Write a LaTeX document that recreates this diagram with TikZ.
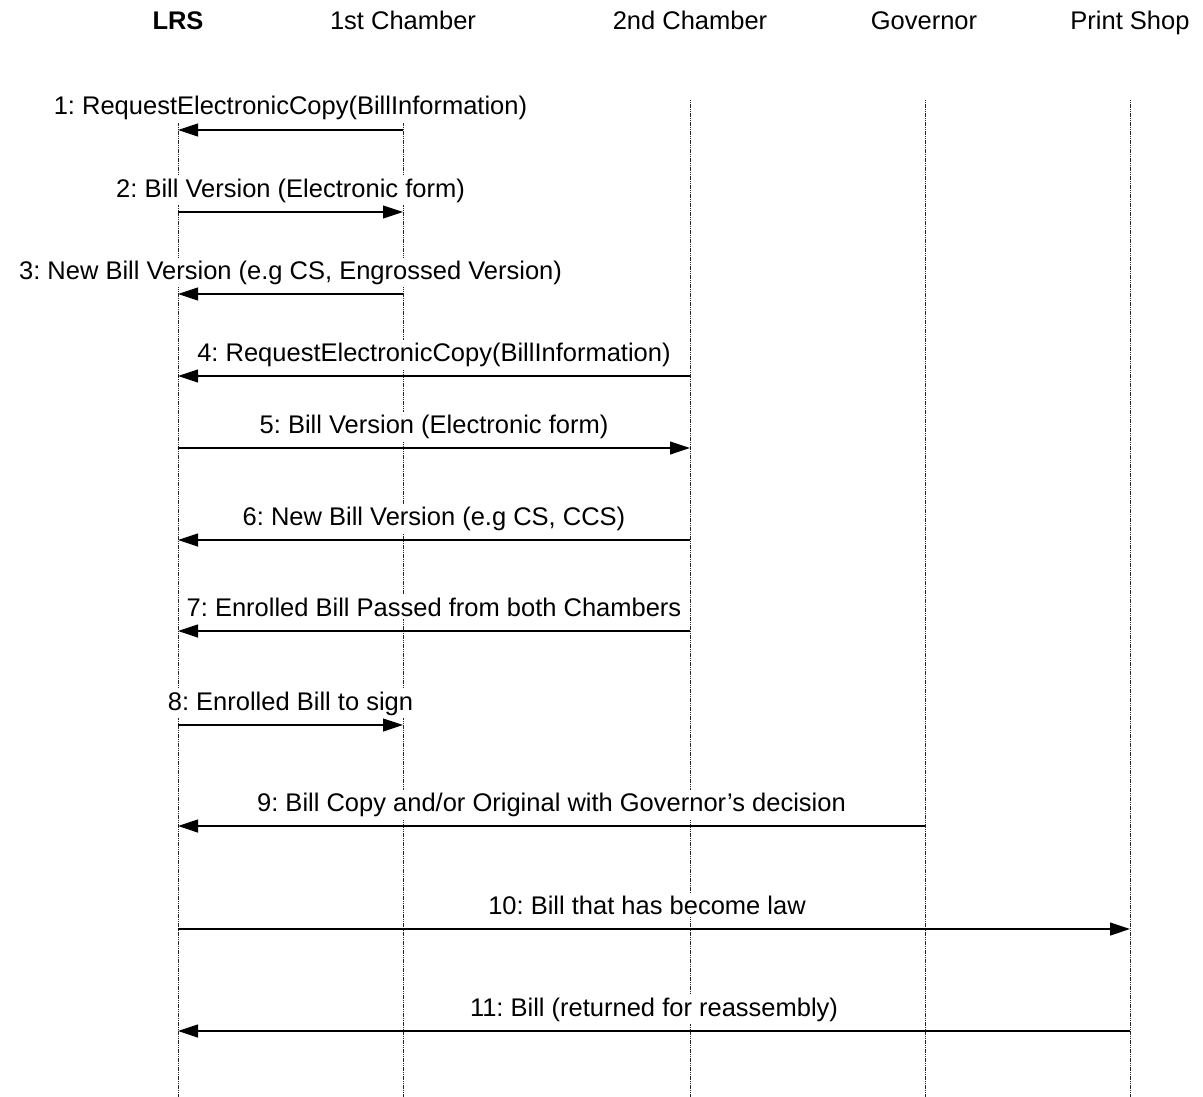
\documentclass[tikz,border=0pt]{standalone}
\usepackage{fontspec}
\setmainfont{Liberation Sans}
\usetikzlibrary{arrows.meta}
\frenchspacing
\begin{document}
\begin{tikzpicture}[x=1pt,y=-1pt,
  txt/.style={font=\fontsize{25.5}{30}\selectfont\frenchspacing, inner sep=0pt},
  head/.style={txt, anchor=base},
  lifeline/.style={line width=1pt, black!85, dash pattern=on 1.2pt off 0.6pt},
  msg/.style={line width=1.2pt, -{Triangle[length=20pt,width=13pt]}},
  lbl/.style={font=\fontsize{25.5}{30}\selectfont\frenchspacing, fill=white, inner sep=2.5pt, anchor=base, midway, yshift=15pt}]
\useasboundingbox (0,0) rectangle (1203,1097);
% headers
\node[head] (lrs) at (178,30) {\bfseries LRS};
\node[head] (c1) at (403,30) {1st Chamber};
\node[head] (c2) at (690,30) {2nd Chamber};
\node[head] (gov) at (924,30) {Governor};
\node[head] (ps) at (1130,30) {Print Shop};
% lifelines
\foreach \n/\x in {lrs/178, c1/403, c2/690, gov/925, ps/1130} {
  \coordinate (\n-top) at (\x,100);
  \coordinate (\n-bot) at (\x,1097);
  \draw[lifeline] (\n-top) -- (\n-bot);
}
% message endpoints
\foreach \i/\y in {1/130, 2/212, 3/294, 4/376, 5/448, 6/540, 7/631, 8/725, 9/826, 10/929, 11/1031} {
  \coordinate (lrs-\i) at (178,\y);
  \coordinate (c1-\i) at (403,\y);
  \coordinate (c2-\i) at (690,\y);
  \coordinate (gov-\i) at (925,\y);
  \coordinate (ps-\i) at (1130,\y);
}
\draw[msg] (c1-1) -- (lrs-1) node[lbl] (l1) {1: RequestElectronicCopy(BillInformation)};
\draw[msg] (lrs-2) -- (c1-2) node[lbl] (l2) {2: Bill Version (Electronic form)};
\draw[msg] (c1-3) -- (lrs-3) node[lbl] (l3) {3: New Bill Version (e.g CS, Engrossed Version)};
\draw[msg] (c2-4) -- (lrs-4) node[lbl] (l4) {4: RequestElectronicCopy(BillInformation)};
\draw[msg] (lrs-5) -- (c2-5) node[lbl] (l5) {5: Bill Version (Electronic form)};
\draw[msg] (c2-6) -- (lrs-6) node[lbl] (l6) {6: New Bill Version (e.g CS, CCS)};
\draw[msg] (c2-7) -- (lrs-7) node[lbl] (l7) {7: Enrolled Bill Passed from both Chambers};
\draw[msg] (lrs-8) -- (c1-8) node[lbl] (l8) {8: Enrolled Bill to sign};
\draw[msg] (gov-9) -- (lrs-9) node[lbl] (l9) {9: Bill Copy and/or Original with Governor's decision};
\draw[msg] (lrs-10) -- (ps-10) node[lbl, xshift=-7pt] (l10) {10: Bill that has become law};
\draw[msg] (ps-11) -- (lrs-11) node[lbl] (l11) {11: Bill (returned for reassembly)};
\end{tikzpicture}
\end{document}
